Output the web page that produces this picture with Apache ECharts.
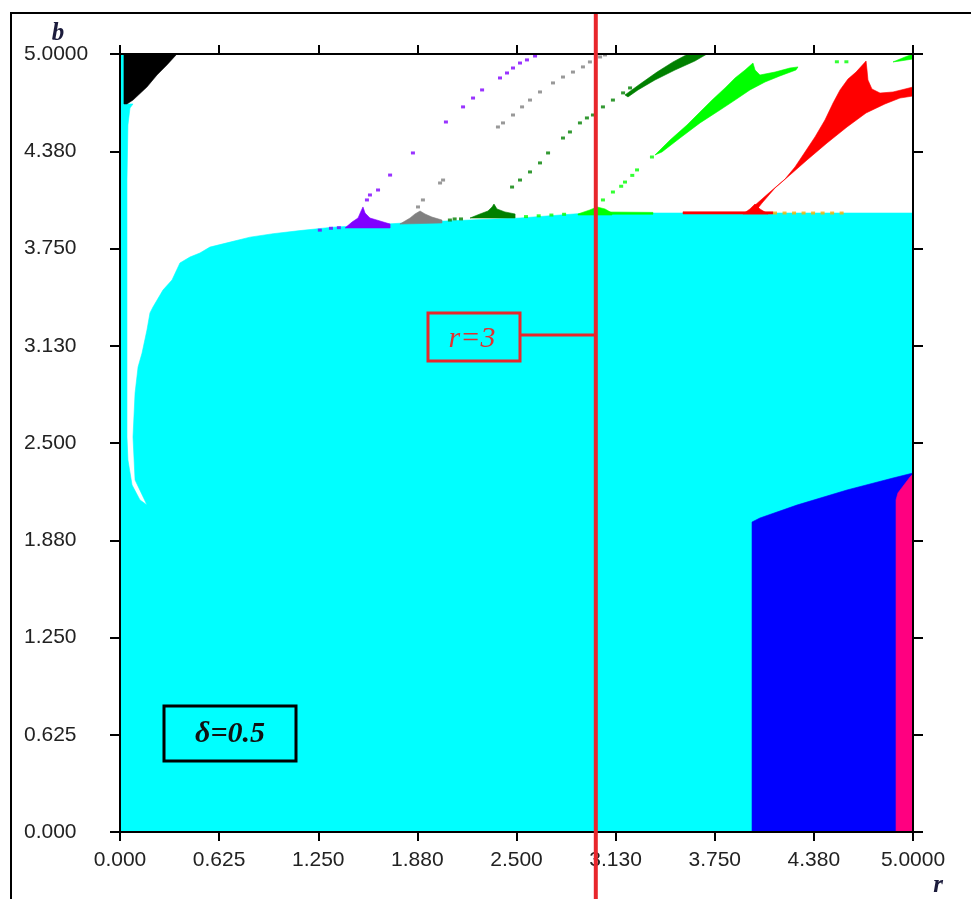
<!DOCTYPE html>
<html>
<head>
<meta charset="utf-8">
<script src="https://cdn.jsdelivr.net/npm/echarts@6/dist/echarts.min.js"></script>
<style>
html,body{margin:0;padding:0;background:#fff;}
#chart{width:971px;height:899px;}
</style>
</head>
<body>
<div id="chart"></div>
<script>
// ---- tick labels ----
const xTickLabels = ['0.000','0.625','1.250','1.880','2.500','3.130','3.750','4.380','5.0000'];
const yTickLabels = ['0.000','0.625','1.250','1.880','2.500','3.130','3.750','4.380','5.0000'];

// ---- regions (r, b) ----
const cyanRegion = [[0,0],[5,0],[5,3.978],[2.945,3.978],[2.522,3.946],[1.892,3.920],[1.343,3.887],[1.135,3.865],[0.965,3.845],[0.820,3.823],[0.694,3.791],[0.567,3.759],[0.504,3.721],[0.441,3.695],[0.378,3.657],[0.328,3.548],[0.271,3.483],[0.208,3.374],[0.189,3.336],[0.170,3.226],[0.139,3.078],[0.114,2.989],[0.095,2.821],[0.082,2.539],[0.095,2.262],[0.170,2.102],[0.126,2.134],[0.076,2.230],[0.050,2.391],[0.044,2.539],[0.044,3.419],[0.044,4.190],[0.050,4.544],[0.063,4.653],[0.082,4.679],[0.025,4.679],[0.025,5],[0,5]];
const blackRegion = [[0.025,5],[0.359,5],[0.296,4.930],[0.233,4.865],[0.170,4.788],[0.082,4.704],[0.044,4.679],[0.025,4.679]];
const blueRegion = [[3.985,0],[5,0],[5,2.307],[4.874,2.275],[4.584,2.198],[4.268,2.101],[4.035,2.018],[3.985,1.992]];
const pinkRegion = [[4.893,0],[5,0],[5,2.301],[4.981,2.281],[4.905,2.179],[4.893,2.134]];
const purpleMound = [[1.419,3.882],[1.463,3.920],[1.501,3.946],[1.520,3.991],[1.532,4.017],[1.545,3.978],[1.576,3.946],[1.639,3.927],[1.703,3.907],[1.703,3.882]];
const grayMound = [[1.765,3.907],[1.829,3.946],[1.860,3.972],[1.892,3.991],[1.923,3.972],[1.967,3.952],[2.030,3.933],[2.030,3.914]];
const darkGreenMound = [[2.207,3.946],[2.270,3.972],[2.320,3.991],[2.346,4.017],[2.358,4.036],[2.377,4.004],[2.427,3.985],[2.491,3.972],[2.491,3.946]];
const darkGreenBand = [[3.184,4.737],[3.279,4.807],[3.386,4.884],[3.487,4.949],[3.581,5],[3.701,5],[3.625,4.955],[3.499,4.897],[3.373,4.833],[3.266,4.769],[3.203,4.724]];
const limeMound = [[2.888,3.972],[2.963,3.998],[3.008,4.017],[3.058,4.004],[3.102,3.978],[3.102,3.965],[2.888,3.965]];
const limeBand = [[3.373,4.351],[3.468,4.447],[3.575,4.544],[3.657,4.627],[3.733,4.704],[3.815,4.782],[3.878,4.846],[3.941,4.897],[3.991,4.942],[4.004,4.897],[4.035,4.865],[4.130,4.884],[4.224,4.910],[4.275,4.917],[4.262,4.897],[4.161,4.859],[4.067,4.820],[3.972,4.769],[3.878,4.704],[3.783,4.640],[3.657,4.557],[3.531,4.460],[3.417,4.370]];
const limeCorner = [[4.874,4.949],[4.950,4.981],[5,5],[5,4.968],[4.918,4.955]];
const limeBase = [[3.03,3.985],[3.36,3.982],[3.36,3.970],[3.03,3.970]];
const redShape = [[3.991,4.017],[4.098,4.113],[4.193,4.196],[4.256,4.274],[4.319,4.370],[4.382,4.467],[4.445,4.576],[4.496,4.685],[4.540,4.769],[4.590,4.839],[4.641,4.884],[4.704,4.955],[4.710,4.897],[4.716,4.833],[4.741,4.775],[4.792,4.749],[4.874,4.756],[4.950,4.775],[5,4.788],[5,4.730],[4.918,4.717],[4.823,4.679],[4.704,4.621],[4.584,4.531],[4.458,4.428],[4.332,4.319],[4.224,4.222],[4.130,4.139],[4.048,4.042],[4.023,4.010]];
const redMound = [[3.928,3.972],[3.972,4.004],[4.004,4.036],[4.035,4.004],[4.086,3.972]];
const redBase = [[3.55,3.986],[4.117,3.986],[4.117,3.972],[3.55,3.972]];

// ---- scattered points ----
const purpleDots = [[1.260,3.868],[1.330,3.880],[1.380,3.884],[1.557,4.062],[1.576,4.094],[1.627,4.126],[1.703,4.222],[1.847,4.364],[2.055,4.563],[2.163,4.660],[2.226,4.717],[2.283,4.769],[2.396,4.846],[2.440,4.878],[2.478,4.910],[2.522,4.942],[2.566,4.962],[2.617,4.987]];
const grayDots = [[1.879,4.017],[1.910,4.062],[2.018,4.171],[2.037,4.190],[2.383,4.531],[2.415,4.557],[2.478,4.608],[2.535,4.660],[2.585,4.704],[2.648,4.756],[2.730,4.814],[2.793,4.852],[2.856,4.884],[2.919,4.917],[2.963,4.949],[3.027,4.981],[3.058,4.994]];
const darkGreenDots = [[2.080,3.933],[2.110,3.940],[2.150,3.940],[2.472,4.145],[2.522,4.190],[2.585,4.242],[2.648,4.300],[2.699,4.364],[2.793,4.460],[2.837,4.499],[2.900,4.557],[2.944,4.589],[2.982,4.608],[3.045,4.660],[3.108,4.704],[3.172,4.750],[3.216,4.782]];
const limeDots = [[2.560,3.955],[2.640,3.960],[2.720,3.965],[2.800,3.970],[3.045,4.062],[3.108,4.113],[3.160,4.150],[3.184,4.177],[3.230,4.220],[3.260,4.255],[3.354,4.338],[4.520,4.950],[4.580,4.950]];
const orangeDots = [[4.130,3.978],[4.190,3.978],[4.250,3.978],[4.310,3.978],[4.370,3.978],[4.430,3.978],[4.490,3.978],[4.550,3.978]];

// ---- reference line ----
const refLineR = 3;
const refLineSpan = [-0.45, 5.27];

function poly(name, pts, color, z){
  return {
    type:'custom', name:name, coordinateSystem:'cartesian2d', silent:true, z:z,
    data:[pts[0]], encode:{x:0,y:1},
    renderItem:function(params, api){
      return {type:'polygon', shape:{points: pts.map(p=>api.coord(p))}, style:{fill:color, stroke:color, lineWidth:0.6}};
    }
  };
}
function dots(name, pts, color){
  return {type:'scatter', name:name, data:pts, symbol:'rect', symbolSize:[4,3], itemStyle:{color:color}, silent:true, z:3, animation:false};
}

const chart = echarts.init(document.getElementById('chart'), null, {renderer:'canvas'});

const axisLineStyle = {color:'#000', width:2};
const labelFont = {fontFamily:'Liberation Sans, Arial, sans-serif', fontSize:21, color:'#222'};

const option = {
  animation:false,
  backgroundColor:'#fff',
  grid:{left:120, top:54, width:793, height:778, containLabel:false},
  xAxis:[
    {type:'value', min:0, max:5, interval:0.625, position:'bottom', z:5,
     axisLine:{show:true, onZero:false, lineStyle:axisLineStyle},
     axisTick:{show:true, inside:false, length:9, lineStyle:axisLineStyle},
     splitLine:{show:false},
     axisLabel:Object.assign({show:true, margin:18, hideOverlap:false, showMinLabel:true, showMaxLabel:true,
       formatter:function(v){return xTickLabels[Math.round(v/0.625)];}}, labelFont)},
    {type:'value', min:0, max:5, interval:0.625, position:'top', z:5,
     axisLine:{show:true, onZero:false, lineStyle:axisLineStyle},
     axisTick:{show:true, inside:false, length:9, lineStyle:axisLineStyle},
     splitLine:{show:false}, axisLabel:{show:false}}
  ],
  yAxis:[
    {type:'value', min:0, max:5, interval:0.625, position:'left', z:5,
     axisLine:{show:true, onZero:false, lineStyle:axisLineStyle},
     axisTick:{show:true, inside:false, length:10, lineStyle:axisLineStyle},
     splitLine:{show:false},
     axisLabel:Object.assign({show:true, align:'left', margin:96, hideOverlap:false, showMinLabel:true, showMaxLabel:true,
       formatter:function(v){return yTickLabels[Math.round(v/0.625)];}}, labelFont)},
    {type:'value', min:0, max:5, interval:0.625, position:'right', z:5,
     axisLine:{show:true, onZero:false, lineStyle:axisLineStyle},
     axisTick:{show:true, inside:false, length:10, lineStyle:axisLineStyle},
     splitLine:{show:false}, axisLabel:{show:false}}
  ],
  series:[
    poly('cyan', cyanRegion, '#00ffff', 1),
    poly('black', blackRegion, '#000000', 2),
    poly('blue', blueRegion, '#0000ff', 2),
    poly('pink', pinkRegion, '#ff0080', 2),
    poly('purple', purpleMound, '#8000ff', 2),
    poly('gray', grayMound, '#808080', 2),
    poly('dgreen', darkGreenMound, '#008000', 2),
    poly('dgreenband', darkGreenBand, '#008000', 2),
    poly('limemound', limeMound, '#00ff00', 2),
    poly('limeband', limeBand, '#00ff00', 2),
    poly('limecorner', limeCorner, '#00ff00', 2),
    poly('limebase', limeBase, '#00ff00', 2),
    poly('redbase', redBase, '#ff0000', 2),
    poly('redmound', redMound, '#ff0000', 2),
    poly('red', redShape, '#ff0000', 2),
    dots('purpleDots', purpleDots, '#8000ff'),
    dots('grayDots', grayDots, '#808080'),
    dots('darkGreenDots', darkGreenDots, '#008000'),
    dots('limeDots', limeDots, '#00ff00'),
    dots('orangeDots', orangeDots, '#ffb000'),
    {type:'custom', name:'r=3 line', coordinateSystem:'cartesian2d', silent:true, z:10, clip:false,
     data:[[refLineR, refLineSpan[0]]], encode:{x:0,y:1},
     renderItem:function(params, api){
       const p1 = api.coord([refLineR, refLineSpan[0]]);
       const p2 = api.coord([refLineR, refLineSpan[1]]);
       return {type:'line', shape:{x1:p1[0], y1:p1[1], x2:p2[0], y2:p2[1]}, style:{stroke:'#e8262c', lineWidth:4}};
     }}
  ],
  graphic:[
    {type:'rect', z:100, shape:{x:11, y:13, width:1200, height:1200}, style:{fill:null, stroke:'#000', lineWidth:2}},
    {type:'text', z:100, x:58, y:34, style:{text:'b', font:'italic bold 25px "Liberation Serif", serif', fill:'#1c1c3c', align:'center', verticalAlign:'middle'}},
    {type:'text', z:100, x:938, y:886, style:{text:'r', font:'italic bold 25px "Liberation Serif", serif', fill:'#1c1c3c', align:'center', verticalAlign:'middle'}},
    {type:'rect', z:100, shape:{x:428, y:313, width:92, height:48}, style:{fill:null, stroke:'#e8262c', lineWidth:3}},
    {type:'line', z:100, shape:{x1:520, y1:335, x2:595, y2:335}, style:{stroke:'#e8262c', lineWidth:3}},
    {type:'text', z:100, x:472, y:339, style:{text:'r=3', font:'italic 30px "Liberation Serif", serif', fill:'#e03030', align:'center', verticalAlign:'middle'}},
    {type:'rect', z:100, shape:{x:164, y:706, width:132, height:55}, style:{fill:null, stroke:'#000', lineWidth:3}},
    {type:'text', z:100, x:230, y:734, style:{text:'δ=0.5', font:'italic bold 30px "Liberation Serif", serif', fill:'#111', align:'center', verticalAlign:'middle'}}
  ]
};
chart.setOption(option);
</script>
</body>
</html>
